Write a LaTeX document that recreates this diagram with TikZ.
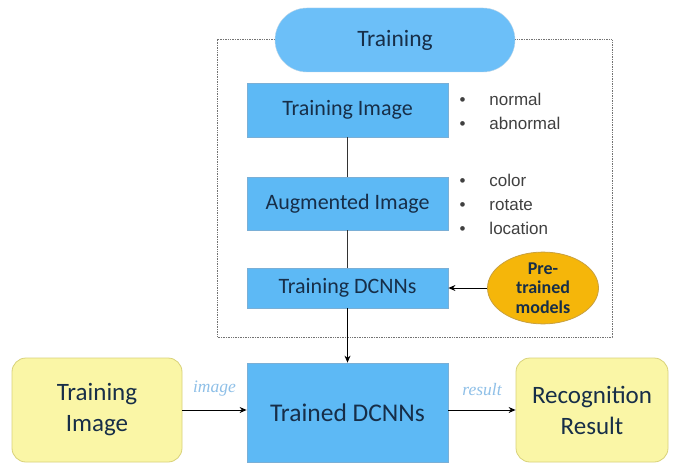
\documentclass[tikz,border=0pt]{standalone}
\usepackage{fontspec}
\setmainfont{Carlito}
\newfontfamily\bulletfont{Liberation Sans}
\newfontfamily\labelfont{Liberation Serif}
\usetikzlibrary{shapes.geometric,arrows.meta}
\definecolor{boxblue}{HTML}{5DB9F5}
\definecolor{boxedge}{HTML}{7AAFD6}
\definecolor{pillblue}{HTML}{6CBFF8}
\definecolor{navy}{HTML}{172E48}
\definecolor{paleyellow}{HTML}{FAF6A6}
\definecolor{yellowedge}{HTML}{D9D27A}
\definecolor{gold}{HTML}{F5B60A}
\definecolor{goldedge}{HTML}{C8A040}
\definecolor{lightlabel}{HTML}{8FC0E8}
\tikzset{
  stage/.style={draw=boxedge, line width=0.8pt, fill=boxblue, text=navy, font=\fontsize{22}{24}\selectfont},
  endbox/.style={draw=yellowedge, line width=0.8pt, fill=paleyellow, rounded corners=14pt, text=navy, align=center, font=\fontsize{25}{31}\selectfont},
  bullets/.style={anchor=north west, align=left, text=black!75, font=\bulletfont\fontsize{17}{24}\selectfont},
  flow/.style={line width=1pt, -{Stealth[length=7pt,width=6pt]}},
  link/.style={line width=1pt, draw=black!80},
  edgelabel/.style={text=lightlabel, font=\labelfont\itshape\fontsize{17.5}{19}\selectfont}
}
\begin{document}
\begin{tikzpicture}[x=1pt,y=-1pt]
\useasboundingbox (0,0) rectangle (674,468);
\fill[white] (0,0) rectangle (674,468);

% dotted frame around the training stage
\draw[black!55, line width=1pt, dash pattern=on 1pt off 0.7pt] (217,40) rectangle (612,337);

% title pill
\node[draw=pillblue!80!black!40, fill=pillblue, rounded corners=32pt, minimum width=240pt, minimum height=64pt,
      text=navy, font=\fontsize{23.5}{25}\selectfont] (title) at (395,40) {Training};

% training pipeline
\node[stage, minimum width=201pt, minimum height=54pt] (timg) at (347.5,110) {Training Image};
\node[stage, minimum width=201pt, minimum height=53pt] (aug) at (347.5,203.5) {Augmented Image};
\node[stage, minimum width=201pt, minimum height=40pt] (tdcnn) at (347.5,288) {Training DCNNs};
\draw[link] (timg) -- (aug);
\draw[link] (aug) -- (tdcnn);

% bullet lists
\node[bullets] (l1) at (456,90) {•\hspace{24pt}normal\\•\hspace{24pt}abnormal};
\node[bullets] (l2) at (456,171) {•\hspace{24pt}color\\•\hspace{24pt}rotate\\•\hspace{24pt}location};

% pre-trained models
\node[ellipse, draw=goldedge, line width=0.8pt, fill=gold, minimum width=111pt, minimum height=70pt,
      inner sep=0pt, align=center, text=navy, font=\bfseries\fontsize{18}{19.5}\selectfont] (pre) at (543,288) {Pre-\\trained\\models};
\draw[flow] (pre.west) -- (tdcnn.east);

% recognition stage
\node[stage, minimum width=201pt, minimum height=99pt, font=\fontsize{25.5}{28}\selectfont] (trained) at (347.5,412.5) {Trained DCNNs};
\node[endbox, minimum width=170pt, minimum height=104pt] (input) at (97,410) {Training\\Image};
\node[endbox, minimum width=152pt, minimum height=104pt] (output) at (592,410) {Recognition\\Result};

\draw[flow] (tdcnn.south) -- (trained.north);
\draw[flow] (input.east) -- node[edgelabel, above=10pt] {image} (trained.west |- input.east);
\draw[flow] (trained.east |- output.west) -- node[edgelabel, above=10pt] {result} (output.west);
\end{tikzpicture}
\end{document}
